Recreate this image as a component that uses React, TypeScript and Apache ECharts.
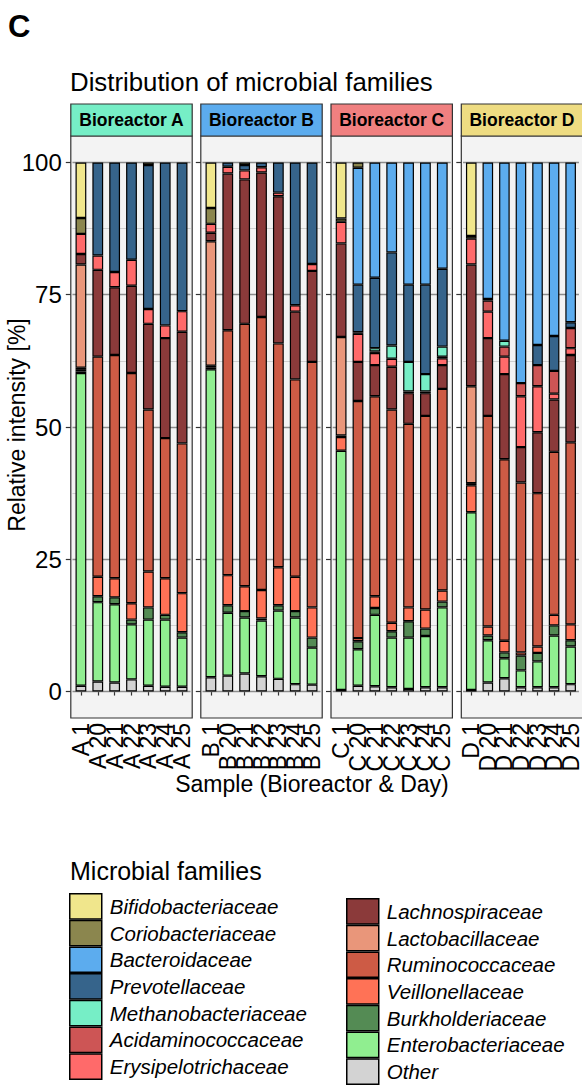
import React, { useEffect, useRef } from 'react';
import * as echarts from 'echarts';

// ---------- data ----------
const reactors = ['A', 'B', 'C', 'D'];
const days = ['1', '20', '21', '22', '23', '24', '25'];
const yTicks = [0, 25, 50, 75, 100];
const yGrid = [0, 12.5, 25, 37.5, 50, 62.5, 75, 87.5, 100];

const families = [
  'Bifidobacteriaceae', 'Coriobacteriaceae', 'Bacteroidaceae', 'Prevotellaceae',
  'Methanobacteriaceae', 'Acidaminococcaceae', 'Erysipelotrichaceae',
  'Lachnospiraceae', 'Lactobacillaceae', 'Ruminococcaceae', 'Veillonellaceae',
  'Burkholderiaceae', 'Enterobacteriaceae', 'Other',
];
const familyColors = [
  '#F0E68C', '#8B864E', '#5CACEE', '#36648B', '#76EEC6', '#CD5555', '#FF6A6A',
  '#8B3A3A', '#E9967A', '#CD5B45', '#FF7256', '#548B54', '#90EE90', '#D3D3D3',
];
const stripColors = ['#76EEC6', '#5CACEE', '#F08080', '#EEDC82'];

// values per sample: A1..A25, B1..B25, C1..C25, D1..D25
const bifido = [10.5, 0, 0, 0, 0, 0, 0, 8.6, 0, 0, 0, 0, 0, 0, 10.6, 0, 0, 0, 0, 0, 0, 13.9, 0, 0, 0, 0, 0, 0];
const corio = [3.0, 0, 0, 0, 0.5, 0, 0, 3.0, 0, 0.5, 0, 0, 0, 0, 0.6, 1.0, 0, 0, 0, 0, 0, 0.5, 0, 0, 0, 0, 0, 0];
const bactero = [0, 0, 0, 0, 0, 0, 0, 0, 0, 0, 0, 0, 0, 0, 0, 22.1, 21.8, 17.0, 23.1, 23.1, 20.1, 0, 25.8, 33.7, 41.7, 34.5, 32.8, 30.2];
const prevo = [0, 17.6, 20.7, 18.4, 27.2, 30.8, 28.1, 0, 0.8, 1.0, 0.9, 5.7, 27.0, 19.2, 0, 9.0, 13.3, 17.6, 14.6, 16.9, 14.7, 0, 0.3, 0, 0, 3.8, 6.6, 1.1];
const methano = [0, 0, 0, 0, 0, 0, 0, 0, 0, 0, 0, 0, 0, 0, 0, 0, 0.6, 2.5, 5.6, 3.3, 1.9, 0, 0, 1.1, 0, 0, 0, 0];
const acidamino = [0, 0, 0, 0, 0, 0, 0, 0, 0, 0, 0, 0, 0, 0, 0, 0.3, 0.3, 0, 0.3, 0.3, 0.3, 0, 2.1, 1.9, 2.5, 4.0, 4.3, 3.8];
const erysip = [3.8, 2.7, 2.9, 4.9, 2.8, 2.4, 3.9, 1.7, 1.3, 1.7, 1.0, 0.7, 1.2, 1.3, 4.1, 5.3, 2.3, 1.5, 0, 0, 1.3, 4.9, 5.0, 3.3, 9.6, 8.7, 1.1, 1.3];
const lachno = [2.0, 16.4, 12.8, 16.5, 16.2, 18.9, 21.1, 1.6, 29.6, 27.3, 27.3, 27.8, 12.8, 17.2, 17.7, 7.4, 5.9, 8.1, 5.8, 4.3, 4.5, 23.0, 14.7, 16.1, 6.7, 11.5, 9.9, 16.5];
const lacto = [19.5, 0, 0, 0, 0, 0, 0, 23.5, 0, 0, 0, 0, 0, 0, 18.6, 0, 0, 0, 0, 0, 0, 18.3, 0, 0, 0, 0, 0, 0];
const rumino = [0.4, 41.6, 42.2, 43.5, 30.6, 26.5, 28.3, 0.4, 46.3, 49.6, 51.6, 42.3, 37.3, 46.4, 0.3, 44.8, 37.8, 40.3, 34.7, 36.6, 38.1, 0.4, 39.8, 34.3, 32.1, 29.0, 30.8, 34.4];
const veillon = [0.3, 3.7, 3.6, 3.1, 6.8, 6.9, 7.4, 0, 5.7, 4.7, 5.4, 7.2, 6.5, 5.7, 2.6, 0.6, 2.2, 1.6, 2.6, 3.6, 2.1, 5.1, 1.7, 2.2, 0.6, 1.2, 2.0, 3.0];
const burkhold = [0.3, 1.1, 1.3, 0.9, 2.3, 0.9, 1.0, 0.3, 1.4, 1.2, 0.4, 1.0, 1.2, 1.9, 0, 1.5, 1.3, 1.2, 3.1, 1.4, 1.1, 0, 0.9, 1.1, 2.8, 1.6, 1.9, 1.2];
const entero = [59.1, 15.0, 14.8, 10.4, 12.5, 12.7, 9.3, 58.2, 11.9, 10.6, 10.5, 12.9, 12.6, 7.0, 45.2, 6.9, 13.5, 9.4, 9.7, 9.7, 15.1, 33.6, 8.0, 3.8, 3.2, 4.9, 9.8, 7.1];
const other = [1.1, 1.9, 1.7, 2.3, 1.1, 0.9, 0.9, 2.7, 3.0, 3.4, 2.9, 2.4, 1.4, 1.3, 0.3, 1.1, 1.0, 0.8, 0.5, 0.8, 0.8, 0.3, 1.7, 2.5, 0.8, 0.8, 0.8, 1.4];

const familyValues = [bifido, corio, bactero, prevo, methano, acidamino, erysip, lachno, lacto, rumino, veillon, burkhold, entero, other];

// ---------- layout ----------
const FONT = 'Liberation Sans, Arial, Helvetica, sans-serif';
const panelLefts = [70.8, 200.8, 331, 461.3];
const panelW = 121.4;
const panelTop = 136;
const panelH = 582;
const stripTop = 104;
const stripH = 32;
const unit = panelW / 7.2;

function buildOption() {
  const grids: any[] = [];
  const xAxes: any[] = [];
  const yAxes: any[] = [];
  const series: any[] = [];
  const graphics: any[] = [];

  reactors.forEach((r, i) => {
    const pl = panelLefts[i];
    grids.push({ left: pl + unit * 0.1, top: panelTop, width: unit * 7, height: panelH, containLabel: false });
    xAxes.push({
      type: 'category', gridIndex: i, data: days.map((d) => `${r} ${d}`),
      axisLine: { show: false },
      axisTick: { show: true, alignWithLabel: true, length: 4, lineStyle: { color: '#333', width: 1.2 } },
      axisLabel: { interval: 0, rotate: 90, fontSize: 23, margin: 5, color: '#000', fontFamily: FONT },
      splitLine: { show: false },
    });
    yAxes.push({
      type: 'value', gridIndex: i, min: -5, max: 105, offset: unit * 0.1,
      axisLine: { show: false },
      axisTick: { show: true, customValues: yTicks, length: 5, lineStyle: { color: '#333', width: 1.2 } },
      axisLabel: { show: i === 0, customValues: yTicks, fontSize: 24, margin: 9, color: '#000', fontFamily: FONT },
      splitLine: { show: false },
    });

    const order = families.map((_, k) => k).reverse();
    order.forEach((k, idx) => {
      const vals = familyValues[k].slice(i * 7, i * 7 + 7).map((v) => (v === 0 ? '-' : v));
      const s: any = {
        type: 'bar', name: families[k], xAxisIndex: i, yAxisIndex: i, stack: 'st' + i,
        data: vals, barWidth: '64%',
        itemStyle: { color: familyColors[k], borderColor: '#000', borderWidth: 1.2 },
        emphasis: { disabled: true },
      };
      if (idx === 0) {
        s.markLine = {
          silent: true, symbol: 'none', z: 1, animation: false,
          label: { show: false },
          data: yGrid.map((v) => ({
            yAxis: v,
            lineStyle: { type: 'solid', color: v % 25 === 0 ? '#8c8c8c' : '#cfcfcf', width: v % 25 === 0 ? 1.4 : 1.1 },
          })),
        };
      }
      series.push(s);
    });

    graphics.push({
      type: 'rect', z: -10, silent: true,
      shape: { x: pl, y: panelTop, width: panelW, height: panelH },
      style: { fill: '#F3F3F3' },
    });
    graphics.push({
      type: 'rect', z: 100, silent: true,
      shape: { x: pl, y: panelTop, width: panelW, height: panelH },
      style: { fill: 'none', stroke: '#333', lineWidth: 1.2 },
    });
    graphics.push({
      type: 'rect', z: 100, silent: true,
      shape: { x: pl, y: stripTop, width: panelW, height: stripH },
      style: { fill: stripColors[i], stroke: '#333', lineWidth: 1.2 },
    });
    graphics.push({
      type: 'text', z: 101, silent: true, x: pl + panelW / 2, y: stripTop + stripH / 2,
      style: { text: `Bioreactor ${r}`, fill: '#000', font: `bold 17.5px ${FONT}`, align: 'center', verticalAlign: 'middle' },
    });
  });

  graphics.push({
    type: 'text', x: 8, y: 26, silent: true,
    style: { text: 'C', fill: '#000', font: `bold 31px ${FONT}`, align: 'left', verticalAlign: 'middle' },
  });
  graphics.push({
    type: 'text', x: 70, y: 82, silent: true,
    style: { text: 'Distribution of microbial families', fill: '#000', font: `25.8px ${FONT}`, align: 'left', verticalAlign: 'middle' },
  });
  graphics.push({
    type: 'text', x: 17, y: 425, rotation: Math.PI / 2, silent: true,
    style: { text: 'Relative intensity [%]', fill: '#000', font: `23px ${FONT}`, align: 'center', verticalAlign: 'middle' },
  });
  graphics.push({
    type: 'text', x: 312, y: 784, silent: true,
    style: { text: 'Sample (Bioreactor & Day)', fill: '#000', font: `23px ${FONT}`, align: 'center', verticalAlign: 'middle' },
  });
  graphics.push({
    type: 'text', x: 70, y: 871, silent: true,
    style: { text: 'Microbial families', fill: '#000', font: `25px ${FONT}`, align: 'left', verticalAlign: 'middle' },
  });

  const legendBase = {
    orient: 'vertical', itemWidth: 32, itemHeight: 25.2, itemGap: 0, icon: 'rect',
    selectedMode: false, padding: 0, height: 200,
    itemStyle: { borderColor: '#000', borderWidth: 1.5 },
    textStyle: { fontSize: 20.5, lineHeight: 24, fontStyle: 'italic', color: '#000', fontFamily: FONT, padding: [0, 0, 0, 3] },
  };

  return {
    animation: false,
    backgroundColor: '#fff',
    textStyle: { fontFamily: FONT },
    grid: grids,
    xAxis: xAxes,
    yAxis: yAxes,
    series,
    graphic: graphics,
    legend: [
      { ...legendBase, left: 69, top: 893, data: families.slice(0, 7) },
      { ...legendBase, left: 346, top: 898, data: families.slice(7) },
    ],
  };
}

export default function App() {
  const ref = useRef<HTMLDivElement>(null);
  useEffect(() => {
    const chart = echarts.init(ref.current as HTMLDivElement, null, { renderer: 'svg' });
    chart.setOption(buildOption() as any);
    return () => chart.dispose();
  }, []);
  return (
    <div
      ref={ref}
      style={{ position: 'fixed', left: 0, top: 0, width: 582, height: 1085, background: '#fff' }}
    />
  );
}
